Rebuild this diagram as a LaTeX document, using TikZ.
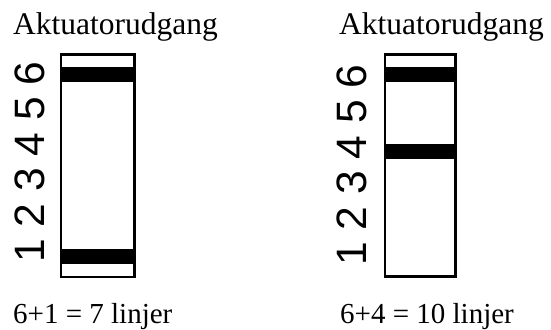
\documentclass[tikz,border=0pt]{standalone}
\usepackage{fontspec}
\setmainfont{Liberation Serif}
\newfontfamily\digitfont{Liberation Sans}
\begin{document}
\begin{tikzpicture}[x=1pt,y=-1pt]
\tikzset{
  frame/.style={draw=black,line width=2.4pt,fill=white},
  bar/.style={fill=black,draw=none},
  title/.style={anchor=base west,inner sep=0pt,font=\fontsize{31.5}{34}\selectfont},
  caption/.style={anchor=base west,inner sep=0pt,font=\fontsize{29}{32}\selectfont},
  digits/.style={rotate=90,anchor=center,inner sep=0pt,font=\digitfont\fontsize{42.5}{46}\selectfont}
}
\useasboundingbox (0,0) rectangle (551,329);
% left
\node[title] (t1) at (13,35) {Aktuatorudgang};
\draw[frame] (61.2,54.4) rectangle (134.3,276.8);
\fill[bar] (60,67) rectangle (135.5,82);
\fill[bar] (60,249.3) rectangle (135.5,264.3);
\node[digits] (d1) at (30,162) {1 2 3 4 5 6};
\node[caption] (c1) at (13,323) {6+1 = 7 linjer};
% right
\node[title] (t2) at (339,35) {Aktuatorudgang};
\draw[frame] (385.2,54.4) rectangle (455.5,276.6);
\fill[bar] (384,67) rectangle (456.7,82);
\fill[bar] (384,144) rectangle (456.7,159);
\node[digits] (d2) at (352,165) {1 2 3 4 5 6};
\node[caption] (c2) at (340,323) {6+4 = 10 linjer};
\end{tikzpicture}
\end{document}
